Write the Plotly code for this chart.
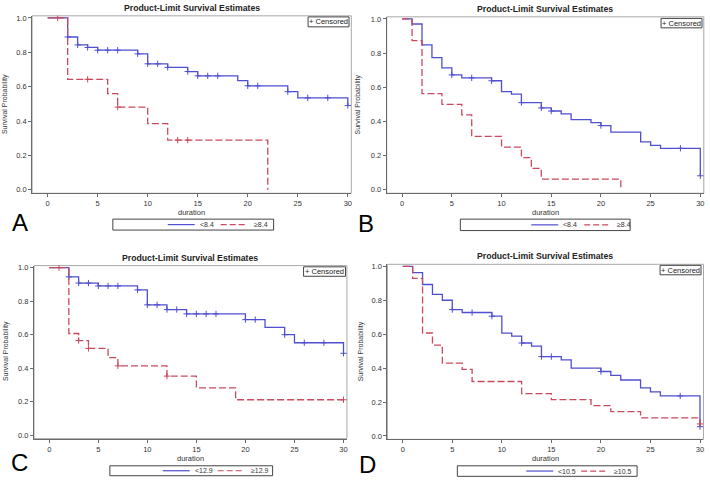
import plotly.graph_objects as go

W, H = 710, 480

# ---------------- data ----------------
# Panel A
a_lo_t = [0, 2, 3, 4, 5, 9, 10, 12, 14, 15, 19, 20, 24, 25, 30]
a_lo_s = [1.0, 0.889, 0.843, 0.828, 0.812, 0.791, 0.733, 0.712, 0.688, 0.663, 0.635, 0.605, 0.571, 0.535, 0.490]
a_lo_c = [2, 3, 4, 5, 6, 7, 9, 10, 11, 12, 14, 15, 16, 17, 20, 21, 24, 26, 28, 30]
a_hi_t = [0, 2, 6, 7, 10, 12, 22]
a_hi_s = [1.0, 0.643, 0.560, 0.481, 0.385, 0.289, 0.0]
a_hi_c = [1, 4, 7, 13, 14]

# Panel B
b_lo_t = [0, 1, 2, 3, 4, 5, 6, 9, 10, 11, 12, 14, 15, 16, 17, 19, 20, 21, 24, 25, 26, 30]
b_lo_s = [1.0, 0.970, 0.848, 0.773, 0.713, 0.672, 0.655, 0.638, 0.575, 0.560, 0.510, 0.479, 0.461,
          0.444, 0.411, 0.393, 0.376, 0.337, 0.281, 0.260, 0.243, 0.082]
b_lo_c = [5, 7, 9, 12, 14, 15, 20, 28, 30]
b_hi_t = [0, 1, 2, 4, 6, 7, 10, 12, 13, 14, 22]
b_hi_s = [1.0, 0.873, 0.563, 0.500, 0.438, 0.313, 0.250, 0.188, 0.125, 0.0625, 0.0]
b_hi_c = []

# Panel C
c_lo_t = [0, 2, 3, 5, 9, 10, 12, 14, 20, 22, 24, 25, 30]
c_lo_s = [1.0, 0.945, 0.908, 0.891, 0.867, 0.778, 0.750, 0.724, 0.690, 0.644, 0.600, 0.552, 0.489]
c_lo_c = [2, 3, 4, 5, 6, 7, 9, 10, 11, 12, 13, 14, 15, 16, 17, 20, 21, 24, 26, 28, 30]
c_hi_t = [0, 2, 3, 4, 6, 7, 12, 15, 19, 30]
c_hi_s = [1.0, 0.607, 0.565, 0.518, 0.463, 0.414, 0.353, 0.283, 0.212, 0.212]
c_hi_c = [1, 3, 4, 7, 12, 30]

# Panel D
d_lo_t = [0, 1, 2, 3, 4, 5, 6, 9, 10, 11, 12, 13, 14, 16, 17, 20, 21, 22, 24, 25, 26, 30]
d_lo_s = [1.0, 0.963, 0.893, 0.835, 0.800, 0.745, 0.728, 0.706, 0.606, 0.588, 0.548, 0.530, 0.468,
          0.448, 0.400, 0.380, 0.357, 0.330, 0.284, 0.260, 0.236, 0.055]
d_lo_c = [5, 7, 9, 12, 14, 15, 20, 28, 30]
d_hi_t = [0, 1, 2, 3, 4, 6, 7, 12, 15, 19, 21, 24, 30]
d_hi_s = [1.0, 0.929, 0.607, 0.536, 0.429, 0.393, 0.321, 0.250, 0.214, 0.179, 0.143, 0.107, 0.071]
d_hi_c = [30]

x_ticks = [0, 5, 10, 15, 20, 25, 30]
y_ticks = [0.0, 0.2, 0.4, 0.6, 0.8, 1.0]
y_ticktext = ["0.0", "0.2", "0.4", "0.6", "0.8", "1.0"]

labels_A = ["&lt;8.4", "≥8.4"]
labels_B = ["&lt;8.4", "≥8.4"]
labels_C = ["&lt;12.9", "≥12.9"]
labels_D = ["&lt;10.5", "≥10.5"]

# ---------------- styling / layout ----------------
BLUE = "#4f4fcf"
RED = "#c94a5c"
AXC = "#6a6a6a"
TXT = "#333333"
FONT = "Liberation Sans, Arial, sans-serif"
XR = [-1.55, 30.35]
YR = [-0.02, 1.012]

panels = [
    dict(letter="A", lo=(a_lo_t, a_lo_s, a_lo_c), hi=(a_hi_t, a_hi_s, a_hi_c), labels=labels_A,
         x0=47.7, x30=348.3, y1=16.0, y0=189.0,
         leg=(113, 218.5, 274, 229.5), lx=168, letpos=(20.5, 221.5),
         cens=(308.5, 15, 349.5, 25), ytl=4.5),
    dict(letter="B", lo=(b_lo_t, b_lo_s, b_lo_c), hi=(b_hi_t, b_hi_s, b_hi_c), labels=labels_B,
         x0=402.7, x30=701.3, y1=17.0, y0=189.0,
         leg=(461, 218.5, 631, 230), lx=532, letpos=(367, 222.5),
         cens=(662, 16.5, 703, 26), ytl=359),
    dict(letter="C", lo=(c_lo_t, c_lo_s, c_lo_c), hi=(c_hi_t, c_hi_s, c_hi_c), labels=labels_C,
         x0=49.3, x30=344.0, y1=267.3, y0=436.0,
         leg=(110, 466.7, 273, 476.7), lx=163, letpos=(20, 463.5),
         cens=(304, 266.5, 346, 276), ytl=6),
    dict(letter="D", lo=(d_lo_t, d_lo_s, d_lo_c), hi=(d_hi_t, d_hi_s, d_hi_c), labels=labels_D,
         x0=403.3, x30=701.0, y1=266.0, y0=436.7,
         leg=(458, 466.7, 638, 477.3), lx=527, letpos=(368.5, 465),
         cens=(661, 265, 702, 274.5), ytl=361),
]


def surv_at(ts, ss, t):
    val = ss[0]
    for ti, si in zip(ts, ss):
        if ti <= t:
            val = si
    return val


def px(xp):
    return xp / W


def py(yp):
    return 1 - yp / H


fig = go.Figure()
annotations = []
shapes = []
layout_axes = {}

for i, p in enumerate(panels, start=1):
    xs = "" if i == 1 else str(i)
    xa, ya = "x" + xs, "y" + xs
    sx = (p["x30"] - p["x0"]) / 30.0
    sy = (p["y0"] - p["y1"])
    left = p["x0"] + XR[0] * sx
    right = p["x0"] + XR[1] * sx
    top = p["y0"] - YR[1] * sy
    bottom = p["y0"] - YR[0] * sy

    for (ts, ss, cs), col, dash in [(p["lo"], BLUE, "solid"), (p["hi"], RED, "7px,3px")]:
        fig.add_trace(go.Scatter(x=ts, y=ss, mode="lines", line=dict(shape="hv", color=col, width=1.3, dash=dash),
                                 xaxis=xa, yaxis=ya, showlegend=False, hoverinfo="skip"))
        if cs:
            fig.add_trace(go.Scatter(x=cs, y=[surv_at(ts, ss, c) for c in cs], mode="markers",
                                     marker=dict(symbol="cross-thin", size=4.5, line=dict(color=col, width=1)),
                                     xaxis=xa, yaxis=ya, showlegend=False, hoverinfo="skip"))

    common_font = dict(family=FONT, size=7.5, color=TXT)
    layout_axes["xaxis" + xs] = dict(domain=[px(left), px(right)], range=XR, anchor=ya,
                                     tickvals=x_ticks, ticks="outside", ticklen=3, tickcolor=AXC, tickwidth=1,
                                     showline=True, linecolor=AXC, linewidth=1, showgrid=False, zeroline=False,
                                     tickfont=common_font, fixedrange=True)
    layout_axes["yaxis" + xs] = dict(domain=[py(bottom), py(top)], range=YR, anchor=xa,
                                     tickvals=y_ticks, ticktext=y_ticktext, ticks="outside", ticklen=3,
                                     tickcolor=AXC, tickwidth=1,
                                     showline=True, linecolor=AXC, linewidth=1, showgrid=False, zeroline=False,
                                     tickfont=common_font, fixedrange=True)

    # light frame (top/right)
    shapes.append(dict(type="rect", xref="paper", yref="paper", x0=px(left), x1=px(right), y0=py(bottom), y1=py(top),
                       line=dict(color="#a8a8a8", width=1), layer="below"))

    cx = (left + right) / 2
    annotations.append(dict(text="<b>Product-Limit Survival Estimates</b>", xref="paper", yref="paper",
                            x=px(cx), y=py(top - 8), xanchor="center", yanchor="middle", showarrow=False,
                            font=dict(family=FONT, size=8.7, color="#222222")))
    annotations.append(dict(text="duration", xref="paper", yref="paper", x=px(cx), y=py(bottom + 19.5),
                            xanchor="center", yanchor="middle", showarrow=False,
                            font=dict(family=FONT, size=7.5, color=TXT)))
    annotations.append(dict(text="Survival Probability", xref="paper", yref="paper", x=px(p["ytl"]),
                            y=py((top + bottom) / 2 - 1), xanchor="center", yanchor="middle", showarrow=False,
                            textangle=-90, font=dict(family=FONT, size=7, color=TXT)))
    # panel letter
    annotations.append(dict(text=p["letter"], xref="paper", yref="paper", x=px(p["letpos"][0]),
                            y=py(p["letpos"][1]), xanchor="center", yanchor="middle", showarrow=False,
                            font=dict(family=FONT, size=24, color="#000000")))
    # censored box
    c0x, c0y, c1x, c1y = p["cens"]
    shapes.append(dict(type="rect", xref="paper", yref="paper", x0=px(c0x), x1=px(c1x), y0=py(c1y), y1=py(c0y),
                       line=dict(color="#444444", width=1), fillcolor="white"))
    annotations.append(dict(text="+ Censored", xref="paper", yref="paper", x=px((c0x + c1x) / 2),
                            y=py((c0y + c1y) / 2), xanchor="center", yanchor="middle", showarrow=False,
                            font=dict(family=FONT, size=7.5, color="#222222")))
    # bottom legend box
    l0x, l0y, l1x, l1y = p["leg"]
    shapes.append(dict(type="rect", xref="paper", yref="paper", x0=px(l0x), x1=px(l1x), y0=py(l1y), y1=py(l0y),
                       line=dict(color="#444444", width=1)))
    ly = (l0y + l1y) / 2
    lx = p["lx"]
    shapes.append(dict(type="line", xref="paper", yref="paper", x0=px(lx), x1=px(lx + 27), y0=py(ly), y1=py(ly),
                       line=dict(color=BLUE, width=1.2)))
    annotations.append(dict(text=p["labels"][0], xref="paper", yref="paper", x=px(lx + 30), y=py(ly),
                            xanchor="left", yanchor="middle", showarrow=False,
                            font=dict(family=FONT, size=7, color=TXT)))
    lx2 = lx + 53 if len(p["labels"][0]) < 8 else lx + 55
    shapes.append(dict(type="line", xref="paper", yref="paper", x0=px(lx2), x1=px(lx2 + 27), y0=py(ly), y1=py(ly),
                       line=dict(color=RED, width=1.2, dash="6px,3px")))
    annotations.append(dict(text=p["labels"][1], xref="paper", yref="paper", x=px(lx2 + 31), y=py(ly),
                            xanchor="left", yanchor="middle", showarrow=False,
                            font=dict(family=FONT, size=7, color=TXT)))

fig.update_layout(width=W, height=H, margin=dict(l=0, r=0, t=0, b=0), paper_bgcolor="white",
                  plot_bgcolor="white", showlegend=False, annotations=annotations, shapes=shapes,
                  **layout_axes)

fig.write_html("out.html", config={"displayModeBar": False},
               post_script="document.body.style.margin='0px';document.body.style.overflow='hidden';")
